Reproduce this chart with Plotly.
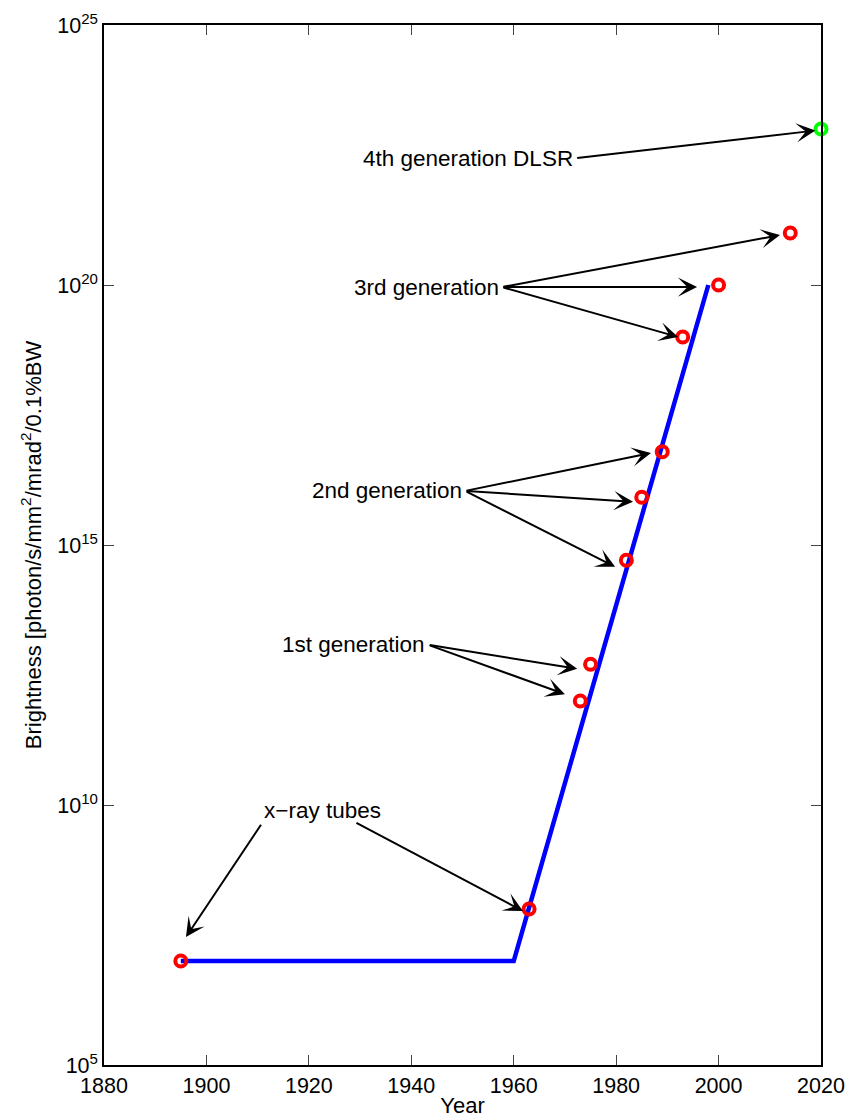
import plotly.graph_objects as go

# ---- data ----
point_years = [1895, 1963, 1973, 1975, 1982, 1985, 1989, 1993, 2000, 2014]
point_brightness = [1e7, 1e8, 1e12, 5.1e12, 5.1e14, 8.3e15, 6.2e16, 1e19, 1e20, 1e21]
dlsr_year = [2020]
dlsr_brightness = [1e23]
trend_years = [1895, 1960, 1998]
trend_brightness = [1e7, 1e7, 1e20]

x_ticks = [1880, 1900, 1920, 1940, 1960, 1980, 2000, 2020]
y_ticks = [1e5, 1e10, 1e15, 1e20, 1e25]
y_ticktext = ["10<sup>5</sup>", "10<sup>10</sup>", "10<sup>15</sup>", "10<sup>20</sup>", "10<sup>25</sup>"]

# annotation labels: (text, tail year, tail log10 brightness, list of heads (year, log10))
labels = [
    ("4th generation DLSR", 1972.1, 22.44, [(2018.9, 22.97)]),
    ("3rd generation", 1957.7, 19.96, [(1995.8, 19.96), (2012.0, 20.96), (1992.1, 19.0)]),
    ("2nd generation", 1950.5, 16.04, [(1986.8, 16.77), (1983.3, 15.83), (1979.8, 14.58)]),
    ("1st generation", 1943.3, 13.08, [(1972.4, 12.62), (1970.0, 12.13)]),
]
xray_text = ("x\u2212ray tubes", 1922.6, 9.90)
xray_arrows = [((1910.85, 9.65), (1896.0, 7.46)), ((1929.0, 9.67), (1961.8, 7.96))]

FONT = "Liberation Sans, Arial, Helvetica, sans-serif"
ARROW = dict(arrowhead=3, arrowsize=1.6, arrowwidth=2, arrowcolor="black",
             standoff=0, startstandoff=0)

fig = go.Figure()
fig.add_trace(go.Scatter(x=trend_years, y=trend_brightness, mode="lines",
                         line=dict(color="#0000ff", width=4.5), hoverinfo="skip"))
fig.add_trace(go.Scatter(x=point_years, y=point_brightness, mode="markers",
                         marker=dict(symbol="circle-open", size=11, color="#ff0000",
                                     line=dict(width=4, color="#ff0000")),
                         cliponaxis=False))
fig.add_trace(go.Scatter(x=dlsr_year, y=dlsr_brightness, mode="markers",
                         marker=dict(symbol="circle-open", size=11, color="#00ff00",
                                     line=dict(width=4, color="#00ff00")),
                         cliponaxis=False))

annotations = []
for text, tx, ty, heads in labels:
    annotations.append(dict(x=tx, y=ty, xref="x", yref="y", text=text, showarrow=False,
                            xanchor="right", yanchor="middle", xshift=-1,
                            font=dict(family=FONT, size=22.5, color="black")))
    for hx, hy in heads:
        annotations.append(dict(x=hx, y=hy, xref="x", yref="y", ax=tx, ay=ty,
                                axref="x", ayref="y", text="", showarrow=True, **ARROW))
annotations.append(dict(x=xray_text[1], y=xray_text[2], xref="x", yref="y",
                        text=xray_text[0], showarrow=False, xanchor="center",
                        yanchor="middle",
                        font=dict(family=FONT, size=22.5, color="black")))
for (tx, ty), (hx, hy) in xray_arrows:
    annotations.append(dict(x=hx, y=hy, xref="x", yref="y", ax=tx, ay=ty,
                            axref="x", ayref="y", text="", showarrow=True, **ARROW))

fig.update_layout(
    width=859, height=1118, autosize=False,
    margin=dict(l=104, r=38, t=25, b=53, pad=0),
    paper_bgcolor="white", plot_bgcolor="white",
    showlegend=False,
    font=dict(family=FONT, size=21.5, color="black"),
    annotations=annotations,
)
fig.update_xaxes(
    range=[1880, 2020], tickvals=x_ticks, ticktext=[str(v) for v in x_ticks],
    showgrid=False, zeroline=False,
    showline=True, linecolor="black", linewidth=1.5, mirror="ticks",
    ticks="inside", ticklen=10, tickcolor="#444", tickwidth=1,
    title=dict(text="Year", standoff=2, font=dict(size=22)),
    automargin=False,
)
fig.update_yaxes(
    type="log", range=[5, 25], tickvals=y_ticks, ticktext=y_ticktext,
    showgrid=False, zeroline=False,
    showline=True, linecolor="black", linewidth=1.5, mirror="ticks",
    ticks="inside", ticklen=10, tickcolor="#444", tickwidth=1,
    title=dict(text="Brightness [photon/s/mm<sup>2</sup>/mrad<sup>2</sup>/0.1%BW",
               standoff=10, font=dict(size=22)),
    automargin=False,
)

fig.write_html("out.html", config={"displayModeBar": False},
               post_script="document.body.style.margin='0';document.body.style.overflow='hidden';")
